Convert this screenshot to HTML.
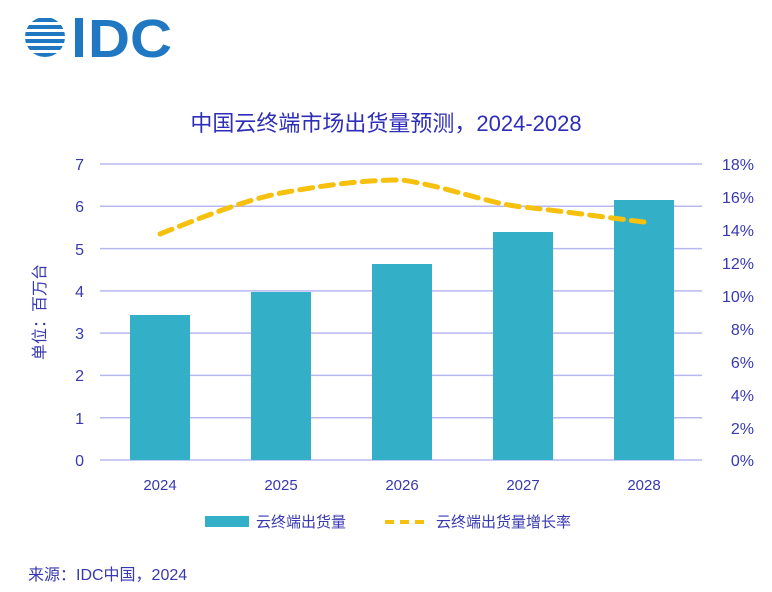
<!DOCTYPE html>
<html><head><meta charset="utf-8"><style>
body{margin:0;background:#fff;width:772px;height:587px;overflow:hidden}
text{font-family:"Liberation Sans","Noto Sans CJK SC",sans-serif}
</style></head><body>
<svg width="772" height="587" viewBox="0 0 772 587">
<g fill="#1f78c1">
<clipPath id="c"><circle cx="45" cy="37" r="20"/></clipPath>
<g clip-path="url(#c)">
<rect x="20" y="18" width="50" height="4"/>
<rect x="20" y="25" width="50" height="4"/>
<rect x="20" y="32" width="50" height="4"/>
<rect x="20" y="39" width="50" height="4"/>
<rect x="20" y="46" width="50" height="4"/>
<rect x="20" y="53" width="50" height="4"/>
</g>
<rect x="75" y="18" width="8" height="39"/>
<text x="88" y="57" font-size="54" font-weight="bold" fill="#1f78c1" textLength="84" lengthAdjust="spacingAndGlyphs" style="font-family:'Liberation Sans',sans-serif">DC</text>
</g>
<text x="386" y="131" font-size="22" fill="#2e2eb8" text-anchor="middle">中国云终端市场出货量预测，2024-2028</text>
<g stroke="#b8b8f0" stroke-width="1.5">
<line x1="100" y1="164" x2="702" y2="164"/>
<line x1="100" y1="206.3" x2="702" y2="206.3"/>
<line x1="100" y1="248.6" x2="702" y2="248.6"/>
<line x1="100" y1="290.9" x2="702" y2="290.9"/>
<line x1="100" y1="333.1" x2="702" y2="333.1"/>
<line x1="100" y1="375.4" x2="702" y2="375.4"/>
<line x1="100" y1="417.7" x2="702" y2="417.7"/>
<line x1="100" y1="460" x2="702" y2="460"/>
</g>
<g fill="#33afc7">
<rect x="130" y="315" width="60" height="145"/>
<rect x="251" y="292" width="60" height="168"/>
<rect x="372" y="264" width="60" height="196"/>
<rect x="493" y="232" width="60" height="228"/>
<rect x="614" y="200" width="60" height="260"/>
</g>
<path d="M160 234 C200 218 245 200 281 193 C320 186 360 180 402 180 C445 186 490 204 523 207 C570 212 610 218 644 222" fill="none" stroke="#f5c00e" stroke-width="5" stroke-dasharray="13,8" stroke-linecap="round"/>
<g font-size="16" fill="#3838b0" text-anchor="end">
<text x="84" y="170">7</text><text x="84" y="212">6</text><text x="84" y="255">5</text><text x="84" y="297">4</text><text x="84" y="339">3</text><text x="84" y="381">2</text><text x="84" y="424">1</text><text x="84" y="466">0</text>
</g>
<g font-size="16" fill="#3838b0" text-anchor="end">
<text x="754" y="170">18%</text><text x="754" y="203">16%</text><text x="754" y="236">14%</text><text x="754" y="269">12%</text><text x="754" y="302">10%</text><text x="754" y="335">8%</text><text x="754" y="368">6%</text><text x="754" y="401">4%</text><text x="754" y="434">2%</text><text x="754" y="466">0%</text>
</g>
<g font-size="15" fill="#3838b0" text-anchor="middle">
<text x="160" y="490">2024</text><text x="281" y="490">2025</text><text x="402" y="490">2026</text><text x="523" y="490">2027</text><text x="644" y="490">2028</text>
</g>
<text transform="translate(45,312) rotate(-90)" font-size="16" fill="#3838b0" text-anchor="middle">单位：百万台</text>
<rect x="205" y="516" width="44" height="11" fill="#33afc7"/>
<text x="256" y="527" font-size="15" fill="#3838b0">云终端出货量</text>
<line x1="385" y1="522" x2="427" y2="522" stroke="#f5c00e" stroke-width="4" stroke-dasharray="9,6"/>
<text x="436" y="527" font-size="15" fill="#3838b0">云终端出货量增长率</text>
<text x="28" y="580" font-size="16" fill="#3838b0">来源：IDC中国，2024</text>
</svg>
</body></html>
